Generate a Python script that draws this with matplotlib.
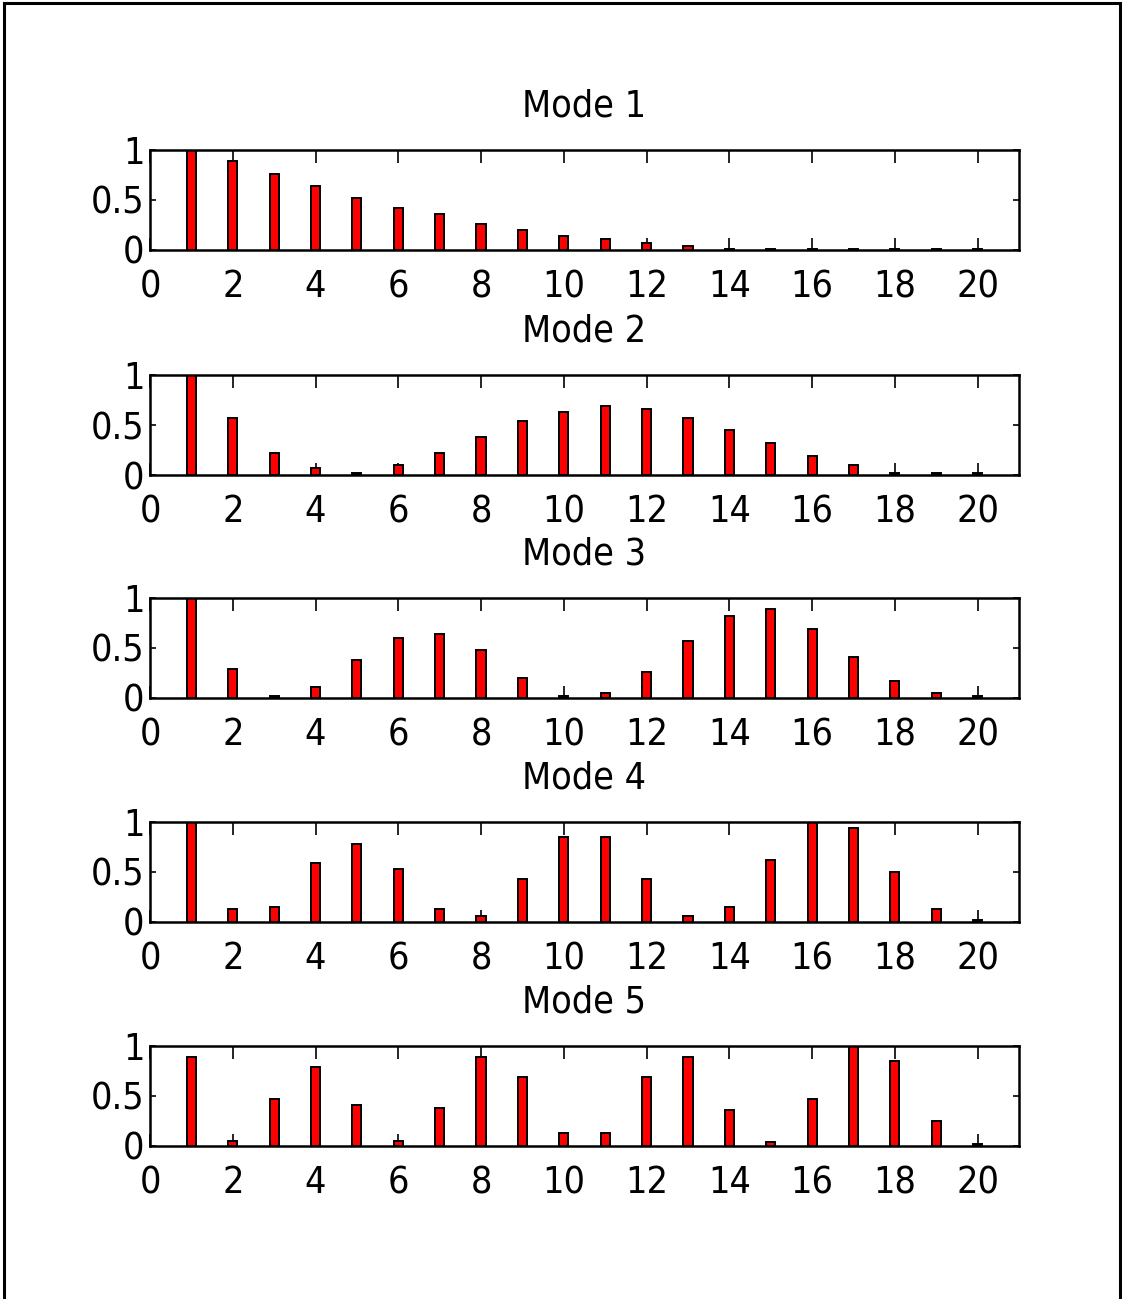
import matplotlib
matplotlib.use("Agg")
import matplotlib.pyplot as plt
from matplotlib.lines import Line2D

plt.rcParams['font.family'] = ['DejaVu Sans']
plt.rcParams['font.stretch'] = 'condensed'

positions = list(range(1, 21))
titles = ["Mode 1", "Mode 2", "Mode 3", "Mode 4", "Mode 5"]
mode1 = [1.0, 0.89, 0.76, 0.64, 0.52, 0.42, 0.36, 0.26, 0.20, 0.14, 0.11, 0.07, 0.04, 0.015, 0.015, 0.015, 0.015, 0.015, 0.015, 0.015]
mode2 = [1.0, 0.57, 0.22, 0.07, 0.02, 0.10, 0.22, 0.38, 0.54, 0.63, 0.69, 0.66, 0.57, 0.45, 0.32, 0.19, 0.10, 0.02, 0.02, 0.02]
mode3 = [1.0, 0.29, 0.02, 0.11, 0.38, 0.60, 0.64, 0.48, 0.20, 0.02, 0.05, 0.26, 0.57, 0.82, 0.89, 0.69, 0.41, 0.17, 0.05, 0.02]
mode4 = [1.0, 0.13, 0.15, 0.59, 0.78, 0.53, 0.13, 0.06, 0.43, 0.85, 0.85, 0.43, 0.06, 0.15, 0.62, 1.0, 0.94, 0.50, 0.13, 0.02]
mode5 = [0.89, 0.05, 0.47, 0.79, 0.41, 0.05, 0.38, 0.89, 0.69, 0.13, 0.13, 0.69, 0.89, 0.36, 0.04, 0.47, 1.0, 0.85, 0.25, 0.02]
modes = [mode1, mode2, mode3, mode4, mode5]
xticks = [0, 2, 4, 6, 8, 10, 12, 14, 16, 18, 20]
yticks = [0, 0.5, 1]
yticklabels = ["0", "0.5", "1"]

W, H = 1122, 1299
fig = plt.figure(figsize=(W / 100, H / 100), dpi=100)

tops = [150, 375, 598, 822, 1046]
ax_h = 100
left_px, right_px = 150, 1019

for top, vals, title in zip(tops, modes, titles):
    ax = fig.add_axes([left_px / W, 1 - (top + ax_h) / H, (right_px - left_px) / W, ax_h / H])
    ax.bar(positions, vals, width=0.22, color='#ff0000', edgecolor='black', linewidth=1.4, zorder=2)
    ax.set_xlim(0, 21)
    ax.set_ylim(0, 1)
    ax.set_xticks(xticks)
    ax.set_xticklabels([str(t) for t in xticks])
    ax.set_yticks(yticks)
    ax.set_yticklabels(yticklabels)
    ax.tick_params(axis='x', direction='in', length=9, width=1.2, top=True, bottom=True,
                   labelsize=27, pad=14)
    ax.tick_params(axis='y', direction='in', length=4, width=1.2, left=True, right=True,
                   labelsize=27, pad=4)
    for s in ax.spines.values():
        s.set_linewidth(1.8)
    ax.set_title(title, fontsize=27, pad=24)

# figure border
lw = 2.2
fig.add_artist(Line2D([4 / W, 4 / W], [0, 1 - 3 / H], transform=fig.transFigure, color='black', lw=lw))
fig.add_artist(Line2D([4 / W, 1120 / W], [1 - 3 / H, 1 - 3 / H], transform=fig.transFigure, color='black', lw=lw))
fig.add_artist(Line2D([1120 / W, 1120 / W], [0, 1 - 3 / H], transform=fig.transFigure, color='black', lw=lw))

fig.savefig("out.png", dpi=100)
